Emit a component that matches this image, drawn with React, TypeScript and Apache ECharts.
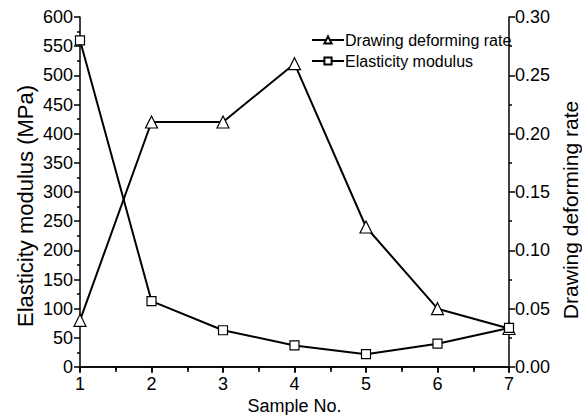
import React, { useEffect, useRef } from "react";
import * as echarts from "echarts";

const samples = [1, 2, 3, 4, 5, 6, 7];
const elasticityModulus = [560, 113, 63, 37, 22, 40, 67];
const drawingRate = [0.04, 0.21, 0.21, 0.26, 0.12, 0.05, 0.033];

const leftAxisName = "Elasticity modulus (MPa)";
const rightAxisName = "Drawing deforming rate";
const xAxisName = "Sample No.";

const FONT = "'Liberation Sans', Arial, sans-serif";

export default function App() {
  const ref = useRef<HTMLDivElement>(null);
  useEffect(() => {
    if (!ref.current) return;
    const chart = echarts.init(ref.current, null, { renderer: "svg" });
    const axisLine = { lineStyle: { color: "#000", width: 1.5 } };
    const tickStyle = { color: "#000", width: 1.5 };
    chart.setOption({
      animation: false,
      textStyle: { fontFamily: FONT, color: "#000" },
      grid: { left: 80, right: 73, top: 17, bottom: 48, outerBoundsMode: "none", containLabel: false },
      graphic: [
        {
          type: "text",
          x: 25,
          y: 206,
          rotation: Math.PI / 2,
          style: {
            text: leftAxisName,
            fontSize: 22,
            fontFamily: FONT,
            fill: "#000",
            align: "center",
            verticalAlign: "middle",
          },
        },
        {
          type: "text",
          x: 570,
          y: 210,
          rotation: Math.PI / 2,
          style: {
            text: rightAxisName,
            fontSize: 21,
            fontFamily: FONT,
            fill: "#000",
            align: "center",
            verticalAlign: "middle",
          },
        },
      ],
      legend: {
        orient: "vertical",
        left: 306,
        top: 27,
        itemWidth: 32,
        itemHeight: 9,
        itemGap: 5,
        textStyle: { fontFamily: FONT, fontSize: 16, color: "#000", padding: [0, 0, 0, -4] },
        data: ["Drawing deforming rate", "Elasticity modulus"],
      },
      xAxis: [
        {
          type: "value",
          min: 1,
          max: 7,
          interval: 1,
          name: xAxisName,
          nameLocation: "middle",
          nameGap: 30,
          nameMoveOverlap: false,
          nameTextStyle: { fontSize: 18, color: "#000", fontFamily: FONT, lineHeight: 18 },
          axisLine,
          axisTick: { show: true, length: 6, lineStyle: tickStyle },
          minorTick: { show: true, splitNumber: 2, length: 3, lineStyle: tickStyle },
          axisLabel: { fontSize: 18, color: "#000", margin: 8, fontFamily: FONT, lineHeight: 18 },
          splitLine: { show: false },
        },
        {
          type: "value",
          position: "top",
          min: 1,
          max: 7,
          interval: 1,
          axisLine,
          axisTick: { show: true, inside: true, length: 5, lineStyle: tickStyle },
          minorTick: { show: true, splitNumber: 2, length: 5, lineStyle: tickStyle },
          axisLabel: { show: false },
          splitLine: { show: false },
        },
      ],
      yAxis: [
        {
          type: "value",
          min: 0,
          max: 600,
          interval: 50,
          axisLine: { show: true, ...axisLine },
          axisTick: { show: true, length: 6, lineStyle: tickStyle },
          minorTick: { show: true, splitNumber: 2, length: 3, lineStyle: tickStyle },
          axisLabel: { fontSize: 18, color: "#000", margin: 7, fontFamily: FONT },
          splitLine: { show: false },
        },
        {
          type: "value",
          min: 0,
          max: 0.3,
          interval: 0.05,
          position: "right",
          axisLine: { show: true, ...axisLine },
          axisTick: { show: true, length: 6, lineStyle: tickStyle },
          minorTick: { show: true, splitNumber: 2, length: 3, lineStyle: tickStyle },
          axisLabel: {
            fontSize: 18,
            color: "#000",
            margin: 6,
            fontFamily: FONT,
            formatter: (v: number) => v.toFixed(2),
          },
          splitLine: { show: false },
        },
      ],
      series: [
        {
          name: "Drawing deforming rate",
          type: "line",
          yAxisIndex: 1,
          data: samples.map((s, i) => [s, drawingRate[i]]),
          symbol: "triangle",
          symbolSize: 12,
          lineStyle: { color: "#000", width: 2 },
          itemStyle: { color: "#fff", borderColor: "#000", borderWidth: 1.2 },
        },
        {
          name: "Elasticity modulus",
          type: "line",
          yAxisIndex: 0,
          data: samples.map((s, i) => [s, elasticityModulus[i]]),
          symbol: "rect",
          symbolSize: 9,
          lineStyle: { color: "#000", width: 2 },
          itemStyle: { color: "#fff", borderColor: "#000", borderWidth: 1.2 },
        },
      ],
    });
    return () => chart.dispose();
  }, []);
  return <div ref={ref} style={{ width: 582, height: 415, position: "absolute", left: 0, top: 0 }} />;
}
